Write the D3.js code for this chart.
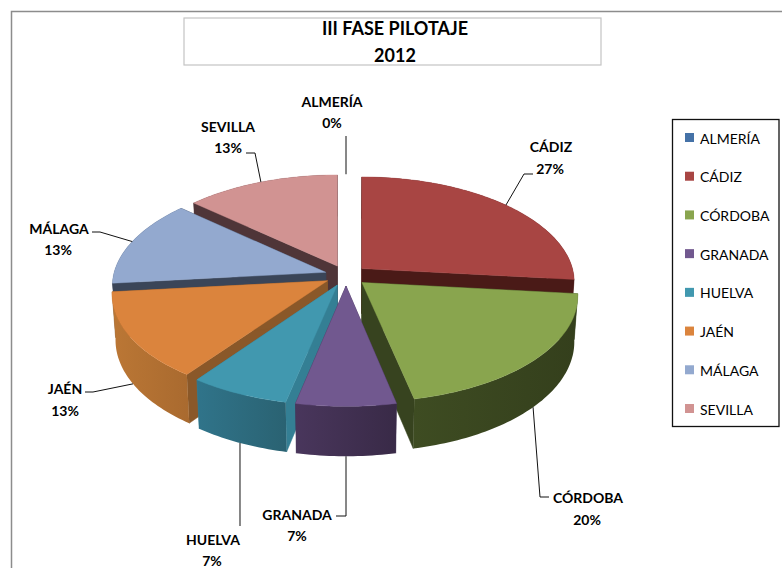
<!DOCTYPE html>
<html>
<head>
<meta charset="utf-8">
<script src="https://cdn.jsdelivr.net/npm/d3@7/dist/d3.min.js"></script>
<style>
html,body{margin:0;padding:0;background:#fff;overflow:hidden}
svg{display:block}
.pie{filter:blur(.3px)}
text{font-family:Lato,"Open Sans",sans-serif;fill:#000}
</style>
</head>
<body>
<svg id="c" width="782" height="568"></svg>
<script>
// Data
const titleLines = ["III FASE PILOTAJE", "2012"];
const categories = ["ALMERÍA","CÁDIZ","CÓRDOBA","GRANADA","HUELVA","JAÉN","MÁLAGA","SEVILLA"];
const values = [0,4,3,1,1,2,2,2];
const percentLabels = ["0%","27%","20%","7%","7%","13%","13%","13%"];
const topColors = ["#4572A7","#A84543","#89A54E","#71588F","#4198AF","#DB843D","#93A9CF","#D19392"];
const radialWallColors = ["#2a4568","#4a1a17","#37431f","#3f2f52","#347f94","#8a5829","#3a4558","#4f3538"];
const outerWallStart = ["#2f4d73","#4a1a17","#3e4c22","#49365c","#30748a","#bb7735","#3a4558","#4f3538"];
const outerWallEnd = ["#2a4568","#4a1a17","#343f1c","#392a47","#2a6272","#a96a2f","#3a4558","#4f3538"];
// Paint order: back to front
const paintOrder = ["ALMERÍA","SEVILLA","CÁDIZ","MÁLAGA","JAÉN","CÓRDOBA","HUELVA","GRANADA"];
// Leader routing: elbow and end of each callout, and label anchor
const calloutLayout = {
  "ALMERÍA": {face:"top", elbow:[346,136], end:[346,136], name:[332,107], pct:[332,128]},
  "CÁDIZ":   {face:"top", elbow:[524,174], end:[533,174], name:[551,152], pct:[550,174]},
  "CÓRDOBA": {face:"bottom", elbow:[540,497], end:[549,497], name:[588,503], pct:[587,525]},
  "GRANADA": {face:"bottom", elbow:[346,516], end:[336,516], name:[297,520], pct:[297,541]},
  "HUELVA":  {face:"bottom", elbow:[240,526], end:[240,526], name:[213,545], pct:[212,566]},
  "JAÉN":    {face:"bottom", elbow:[93,392], end:[85,392], name:[65,394], pct:[65,416]},
  "MÁLAGA":  {face:"top", elbow:[100,232], end:[92,232], name:[59,234], pct:[58,255]},
  "SEVILLA": {face:"top", elbow:[255,153], end:[246,153], name:[228,132], pct:[228,153]}
};

const svg = d3.select("#c");
const defs = svg.append("defs");

// Frame, title box
svg.append("path").attr("d","M11.5,568V11.5H782").attr("fill","none").attr("stroke","#8c8c8c").attr("stroke-width",1.5);
svg.append("rect").attr("x",184).attr("y",18).attr("width",417).attr("height",47)
  .attr("fill","#fff").attr("stroke","#c4c4c4").attr("stroke-width",1.2);
svg.selectAll("text.t").data(titleLines).join("text").attr("class","t")
  .attr("x",395).attr("y",(d,i)=>35+i*27).attr("text-anchor","middle")
  .attr("font-size",18).attr("font-weight",700).text(d=>d);

// Projection of the tilted disc: explosion offset (ox, oy) plus local wedge point (lu, lv)
const cx=346, cy=275.5, R=212.5, Ry=103.8, kY=0.116, kBack=0.13, kFront=0.116, explode=0.1;
const shrink=0.985, depth=45.2;
function project(ox,oy,lu,lv,bottom){
  const v=oy+lv;
  const wy=1/(1-kY*v), wx=1/(1-(v<0?kBack:kFront)*v);
  let x=(ox*Math.max(wx,1)+lu*wx)*R, y=v*Ry*wy;
  if(bottom){ x*=shrink; y=y*shrink+depth*wy; }
  return [cx+x, cy+y];
}
const pie=d3.pie().sort(null).value(d=>d.value);
const slices=pie(categories.map((name,i)=>({name,value:values[i],i})));
const line=d3.line();

function sliceGeom(s){
  const mid=(s.startAngle+s.endAngle)/2;
  const ox=explode*Math.sin(mid), oy=-explode*Math.cos(mid);
  const pt=(a,r,b)=>project(ox,oy,r*Math.sin(a),-r*Math.cos(a),b);
  const n=Math.max(2,Math.ceil((s.endAngle-s.startAngle)/0.02));
  const angles=d3.range(n+1).map(i=>s.startAngle+(s.endAngle-s.startAngle)*i/n);
  return {mid,pt,angles};
}
const bySlice=new Map(slices.map(s=>[s.data.name,s]));
const pieG=svg.append("g").attr("class","pie");
paintOrder.forEach(name=>{
  const s=bySlice.get(name), i=s.data.i;
  if(s.value===0) return;
  const g=sliceGeom(s), el=pieG.append("g");
  const radial=(a)=>[g.pt(a,0,false),g.pt(a,1,false),g.pt(a,1,true),g.pt(a,0,true)];
  [s.startAngle,s.endAngle].forEach(a=>{
    el.append("path").attr("d",line(radial(a))+"Z").attr("fill",radialWallColors[i])
      .attr("stroke",radialWallColors[i]).attr("stroke-width",.5);
  });
  // outer wall, shaded along x
  const topArc=g.angles.map(a=>g.pt(a,1,false)), botArc=g.angles.map(a=>g.pt(a,1,true));
  const xs=d3.extent(topArc.concat(botArc),d=>d[0]);
  const id="wall"+i;
  const lg=defs.append("linearGradient").attr("id",id).attr("gradientUnits","userSpaceOnUse")
    .attr("x1",xs[0]).attr("x2",xs[1]).attr("y1",0).attr("y2",0);
  lg.append("stop").attr("offset",0).attr("stop-color",outerWallStart[i]);
  lg.append("stop").attr("offset",1).attr("stop-color",outerWallEnd[i]);
  el.append("path").attr("d",line(topArc.concat(botArc.slice().reverse()))+"Z").attr("fill",`url(#${id})`);
  // top face
  const face=[g.pt(0,0,false)].concat(topArc);
  el.append("path").attr("d",line(face)+"Z").attr("fill",topColors[i])
    .attr("stroke",topColors[i]).attr("stroke-width",.4);
});

// Callouts
const labelG=svg.append("g");
slices.forEach(s=>{
  const name=s.data.name, c=calloutLayout[name], g=sliceGeom(s);
  const start=g.pt(s.value===0?0:g.mid,1,c.face==="bottom");
  labelG.append("path").attr("d",line([start,c.elbow,c.end])).attr("fill","none")
    .attr("stroke","#111").attr("stroke-width",1);
  const t=labelG.append("g").attr("font-size",14).attr("font-weight",700).attr("text-anchor","middle");
  t.append("text").attr("x",c.name[0]).attr("y",c.name[1]).text(name);
  t.append("text").attr("x",c.pct[0]).attr("y",c.pct[1]).text(percentLabels[s.data.i]);
});

// Legend
const legendY=d3.scalePoint().domain(categories).range([138,409]);
svg.append("rect").attr("x",672.5).attr("y",119.5).attr("width",106.5).attr("height",307)
  .attr("fill","#fff").attr("stroke","#111").attr("stroke-width",1.3);
const lg=svg.selectAll("g.l").data(categories).join("g").attr("class","l")
  .attr("transform",d=>`translate(0,${legendY(d)})`);
lg.append("rect").attr("x",685).attr("y",-5).attr("width",9).attr("height",9).attr("fill",(d,i)=>topColors[i]);
lg.append("text").attr("x",700).attr("y",5.5).attr("font-size",14).text(d=>d);
</script>
</body>
</html>
